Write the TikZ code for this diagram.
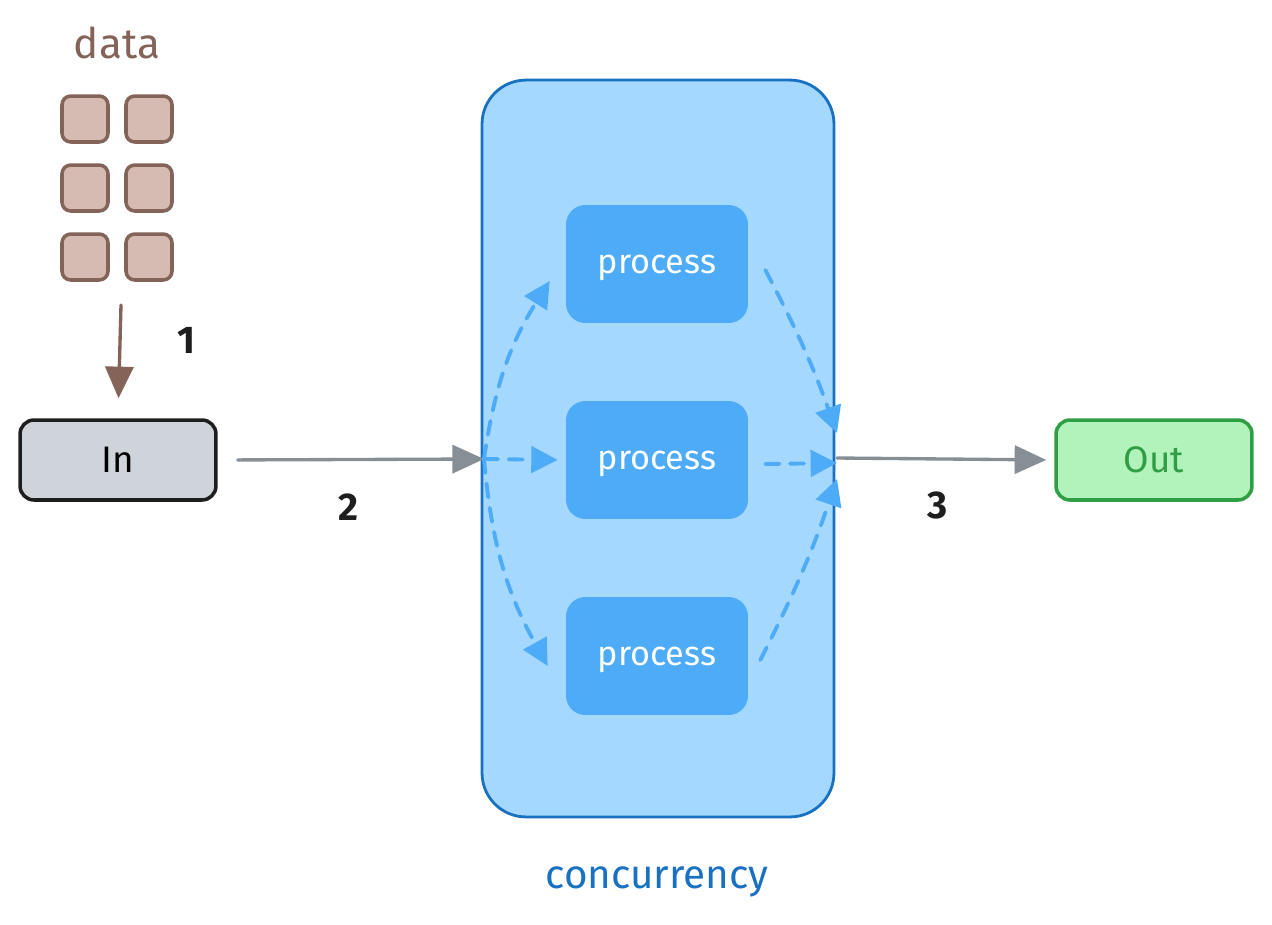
\documentclass[tikz,border=0pt]{standalone}
\usepackage{fontspec}
\setmainfont{Fira Sans}
\usetikzlibrary{arrows.meta,positioning}
\definecolor{brn}{HTML}{846358}
\definecolor{brnfill}{HTML}{D5BBB1}
\definecolor{gry}{HTML}{868E96}
\definecolor{infill}{HTML}{CED4DA}
\definecolor{ink}{HTML}{1E1E1E}
\definecolor{cblue}{HTML}{1971C2}
\definecolor{cfill}{HTML}{A5D8FF}
\definecolor{pblue}{HTML}{4DABF7}
\definecolor{ogreen}{HTML}{2F9E44}
\definecolor{ofill}{HTML}{B2F2BB}
\tikzset{
  datacell/.style={draw=brn, fill=brnfill, line width=2pt, rounded corners=5pt,
    minimum width=0.92cm, minimum height=0.92cm, inner sep=0pt},
  iobox/.style={line width=2pt, rounded corners=8pt, minimum width=3.92cm,
    minimum height=1.6cm, inner sep=0pt, font=\fontsize{21}{24}\selectfont},
  procbox/.style={fill=pblue, rounded corners=11pt, minimum width=3.64cm,
    minimum height=2.36cm, inner sep=0pt, text=white, text depth=0pt,
    font=\fontsize{19.5}{22}\selectfont},
  flow/.style={line width=1.9pt, line cap=round},
  tip/.style={-{Triangle[length=18pt,width=16pt,fill=#1]}},
  dflow/.style={flow, line width=2.2pt, draw=pblue, dash pattern=on 8pt off 6pt,
    -{Triangle[length=15pt,width=15pt,fill=pblue]}},
  steplabel/.style={text=ink, font=\bfseries\fontsize{22}{26}\selectfont},
}
\begin{document}
\begin{tikzpicture}[x=0.02cm, y=-0.02cm]
	\useasboundingbox (0,0) rectangle (1272,924);
	% data
	\node[text=brn, font=\fontsize{24}{28}\selectfont] (data) at (117,43) {data};
	\foreach \r/\yy in {1/119, 2/188, 3/257}{
		\node[datacell] (dl\r) at (85,\yy) {};
		\node[datacell] (dr\r) at (149,\yy) {};
	}
	\coordinate (dsrc) at (121,305);
	% in / out
	\node[iobox, draw=ink, fill=infill] (in) at (118,460) {In};
	\node[iobox, draw=ogreen, fill=ofill, text=ogreen] (out) at (1154,460) {Out};
	% concurrency
	\node[draw=cblue, fill=cfill, line width=1.6pt, rounded corners=25pt,
		minimum width=7.04cm, minimum height=14.74cm, inner sep=0pt] (conc) at (658,448.5) {};
	\node[text=cblue, font=\fontsize{23}{27}\selectfont] (clabel) at (657,882) {concurrency};
	\node[procbox] (p1) at (657,264) {process};
	\node[procbox] (p2) at (657,460) {process};
	\node[procbox] (p3) at (657,656) {process};
	\coordinate (split) at (484,459);
	\coordinate (join) at (837,458);
	% arrows
	\draw[flow, draw=brn, tip=brn, shorten >=0.4cm] (dsrc) -- (in.north);
	\draw[flow, draw=gry, tip=gry, shorten <=0.4cm] (in.east) -- (split);
	\draw[flow, draw=gry, tip=gry, shorten >=0.16cm] (join) -- (out.west);
	\draw[dflow] (split) to[bend left=12] ([xshift=-0.32cm,yshift=-0.34cm]p1.west);
	\draw[dflow, shorten >=0.16cm] (split) -- (p2.west);
	\draw[dflow] (split) to[bend right=12] ([xshift=-0.36cm,yshift=-0.2cm]p3.west);
	\draw[dflow] ([xshift=0.34cm,yshift=-0.12cm]p1.east) to[bend left=4] ([yshift=0.5cm]join);
	\draw[dflow] ([xshift=0.34cm,yshift=-0.08cm]p2.east) -- ([yshift=-0.1cm]join);
	\draw[dflow] ([xshift=0.24cm,yshift=-0.08cm]p3.east) to[bend right=4] ([yshift=-0.42cm]join);
	% labels
	\node[steplabel] (n1) at (186,340) {1};
	\node[steplabel] (n2) at (348,507) {2};
	\node[steplabel] (n3) at (938,505) {3};
\end{tikzpicture}
\end{document}
